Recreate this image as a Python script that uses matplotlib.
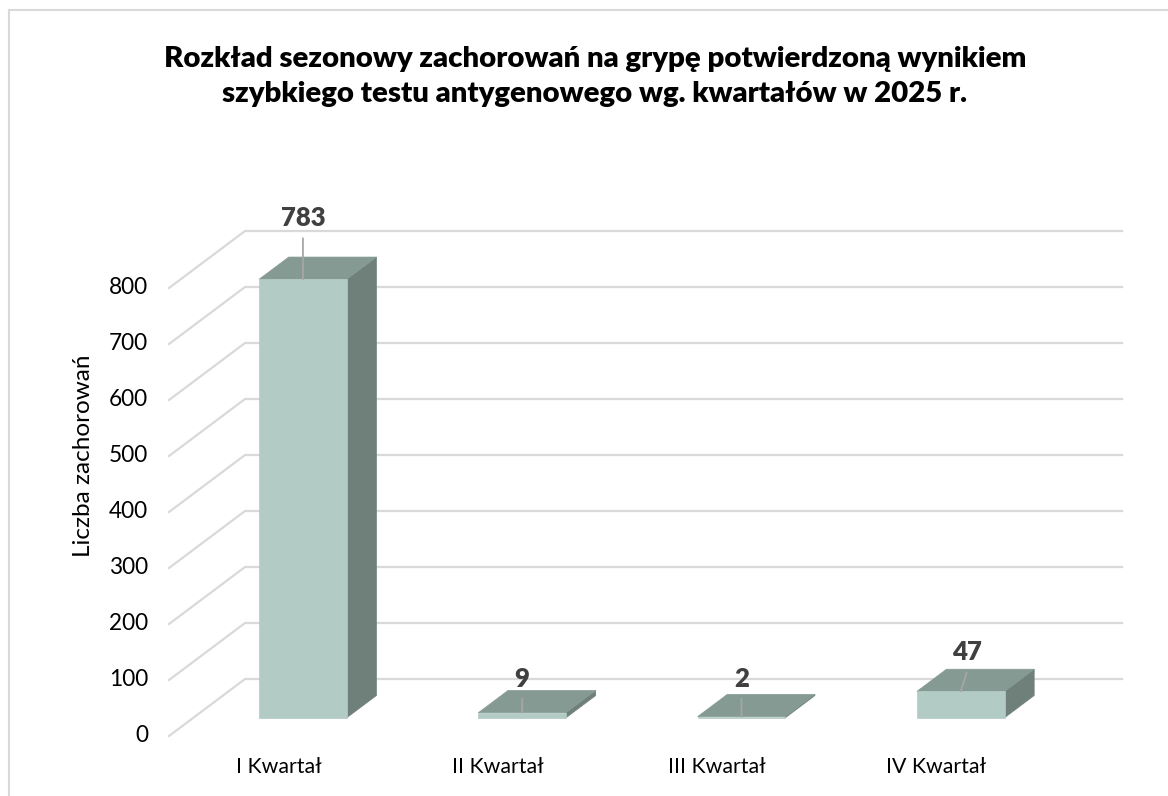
import matplotlib
matplotlib.use("Agg")
import matplotlib.pyplot as plt
from matplotlib.patches import Polygon
from matplotlib.lines import Line2D

# ---- data ----
categories = ["I Kwartał", "II Kwartał", "III Kwartał", "IV Kwartał"]
values = [783, 9, 2, 47]
y_ticks = [0, 100, 200, 300, 400, 500, 600, 700, 800]
title = ("Rozkład sezonowy zachorowań na grypę potwierdzoną wynikiem\n"
         "szybkiego testu antygenowego wg. kwartałów w 2025 r.")
y_label = "Liczba zachorowań"

# ---- layout (pixels) ----
W, H = 1168, 796
FRONT_LEFT, FRONT_RIGHT = 169, 1046      # front plane x extent
FRONT_ZERO, FRONT_TOP = 736, 288         # y pixel for value 0 / 800 on front plane
DEPTH_PX = (76, 57)                      # floor depth offset (right, up)
BAR_W = 0.40                             # in category units
BAR_D0, BAR_D1 = 0.32, 0.71              # bar depth range (fraction of floor depth)
label_offsets = [(0, 61), (0, 34), (0, 38), (6, 39)]  # value label offset from bar top-front (px)

C_FRONT = "#B2CBC4"
C_TOP = "#859A93"
C_SIDE = "#6F807A"
C_GRID = "#D9D9D9"

plt.rcParams['font.family'] = ['Lato', 'DejaVu Sans']

fig = plt.figure(figsize=(W / 100, H / 100), dpi=100)

n = len(categories)
vmax = y_ticks[-1]
px_per_cat = (FRONT_RIGHT - FRONT_LEFT) / n
px_per_val = (FRONT_ZERO - FRONT_TOP) / vmax
DX = DEPTH_PX[0] / px_per_cat
DY = DEPTH_PX[1] / px_per_val

ax_w = FRONT_RIGHT - FRONT_LEFT + DEPTH_PX[0]
ax_h = FRONT_ZERO - FRONT_TOP + DEPTH_PX[1]
ax = fig.add_axes([FRONT_LEFT / W, (H - FRONT_ZERO) / H, ax_w / W, ax_h / H])
ax.set_xlim(0, n + DX)
ax.set_ylim(0, vmax + DY)
ax.axis("off")


def proj(x, v, d):
    return (x + d * DX, v + d * DY)


# gridlines: side wall diagonal + back wall horizontal
for v in y_ticks:
    p0 = proj(0, v, 0)
    p1 = proj(0, v, 1)
    p2 = proj(n, v, 1)
    ax.add_line(Line2D([p0[0], p1[0], p2[0]], [p0[1], p1[1], p2[1]],
                       color=C_GRID, lw=1.6, zorder=1, clip_on=False,
                       solid_joinstyle="miter"))
    ax.annotate(str(v), xy=p0, xytext=(-21, 0), textcoords="offset pixels",
                ha="right", va="center", fontsize=16.3, color="#000000")

# bars
for i, (cat, h) in enumerate(zip(categories, values)):
    xc = i + 0.5
    x0, x1 = xc - BAR_W / 2, xc + BAR_W / 2
    front = [proj(x0, 0, BAR_D0), proj(x1, 0, BAR_D0), proj(x1, h, BAR_D0), proj(x0, h, BAR_D0)]
    top = [proj(x0, h, BAR_D0), proj(x1, h, BAR_D0), proj(x1, h, BAR_D1), proj(x0, h, BAR_D1)]
    side = [proj(x1, 0, BAR_D0), proj(x1, 0, BAR_D1), proj(x1, h, BAR_D1), proj(x1, h, BAR_D0)]
    ax.add_patch(Polygon(side, closed=True, fc=C_SIDE, ec=C_SIDE, lw=0.5, zorder=3))
    ax.add_patch(Polygon(top, closed=True, fc=C_TOP, ec=C_TOP, lw=0.5, zorder=3))
    ax.add_patch(Polygon(front, closed=True, fc=C_FRONT, ec=C_FRONT, lw=0.5, zorder=4))

    # category label
    ax.annotate(cat, xy=proj(xc, 0, 0), xytext=(0, -31), textcoords="offset pixels",
                ha="center", va="center", fontsize=15.3, color="#000000")

    # value label with leader line
    anchor = proj(xc, h, BAR_D0)
    ox, oy = label_offsets[i]
    ax.annotate(str(h), xy=anchor, xytext=(ox, oy), textcoords="offset pixels",
                ha="center", va="center", fontsize=18.5, fontweight="heavy",
                color="#404040", zorder=6)
    ax.annotate("", xy=anchor, xytext=(ox, oy - 20), textcoords="offset pixels",
                arrowprops=dict(arrowstyle="-", color="#A6A6A6", lw=1.3,
                                shrinkA=0, shrinkB=0), zorder=5)

# axis title
fig.text(83 / W, 1 - 456 / H, y_label, rotation=90, ha="center", va="center",
         fontsize=17.5, color="#000000")

# chart title
fig.text(595 / W, 1 - 76.5 / H, title, ha="center", va="center", fontsize=21.2,
         fontweight="heavy", color="#000000", linespacing=1.45)

# chart frame
fig.add_artist(Line2D([9 / W, 9 / W], [0, 1 - 10 / H], color=C_GRID, lw=1.5,
                      transform=fig.transFigure))
fig.add_artist(Line2D([9 / W, 1], [1 - 10 / H, 1 - 10 / H], color=C_GRID, lw=1.5,
                      transform=fig.transFigure))

fig.savefig("out.png", dpi=100, facecolor="white")
